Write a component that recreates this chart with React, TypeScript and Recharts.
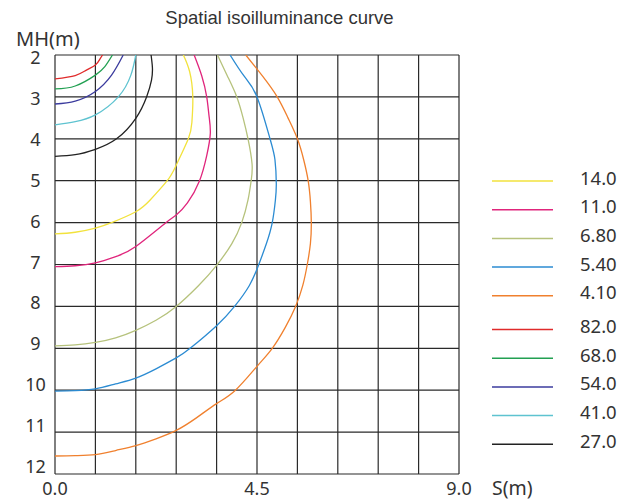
import { LineChart, Line, XAxis, YAxis, ReferenceLine } from "recharts";

// grid every 0.9 m across, 1 m down
const gridS = [0, 0.9, 1.8, 2.7, 3.6, 4.5, 5.4, 6.3, 7.2, 8.1, 9.0];
const gridMH = [2, 3, 4, 5, 6, 7, 8, 9, 10, 11, 12];
const sTicks = [0, 4.5, 9];
const mhTicks = [2, 3, 4, 5, 6, 7, 8, 9, 10, 11, 12];

// isolux curves as [S, MH], from the top edge down to the S = 0 axis
const lux14 = [[2.86, 2.0], [3.0, 2.4], [3.07, 3.0], [3.05, 3.6], [2.97, 4.0], [2.7, 4.63], [2.5, 5.0], [2.12, 5.46], [1.8, 5.74], [1.26, 6.0], [0.9, 6.13], [0.45, 6.23], [0, 6.27]];
const lux11 = [[3.1, 2.0], [3.27, 2.5], [3.38, 3.0], [3.43, 3.44], [3.46, 3.87], [3.38, 4.4], [3.22, 5.0], [2.95, 5.53], [2.7, 5.82], [2.45, 6.02], [1.8, 6.57], [1.38, 6.8], [0.9, 6.96], [0.45, 7.03], [0, 7.05]];
const lux68 = [[3.62, 2.0], [3.84, 2.5], [4.05, 3.0], [4.19, 3.5], [4.3, 4.0], [4.39, 4.6], [4.37, 5.0], [4.3, 5.46], [4.16, 6.0], [3.94, 6.5], [3.6, 7.02], [3.2, 7.5], [2.7, 8.0], [2.25, 8.33], [1.8, 8.57], [1.35, 8.75], [0.9, 8.86], [0.45, 8.92], [0, 8.94]];
const lux54 = [[3.9, 2.0], [4.21, 2.5], [4.5, 3.0], [4.79, 4.0], [4.9, 4.5], [4.93, 5.06], [4.91, 5.46], [4.84, 6.0], [4.71, 6.5], [4.54, 7.0], [4.33, 7.5], [4.0, 8.0], [3.6, 8.46], [3.01, 9.0], [2.7, 9.23], [2.25, 9.49], [1.8, 9.71], [1.35, 9.85], [0.9, 9.97], [0.45, 10.01], [0, 10.02]];
const lux41 = [[4.25, 2.0], [4.62, 2.5], [4.95, 3.0], [5.19, 3.5], [5.4, 4.0], [5.54, 4.5], [5.64, 5.0], [5.69, 5.5], [5.71, 6.0], [5.69, 6.5], [5.62, 7.0], [5.52, 7.5], [5.36, 8.0], [5.13, 8.5], [4.84, 9.0], [4.5, 9.43], [4.02, 10.0], [3.6, 10.32], [3.15, 10.66], [2.7, 10.96], [2.25, 11.16], [1.8, 11.32], [1.35, 11.44], [0.9, 11.54], [0.45, 11.56], [0, 11.57]];
const lux820 = [[1.06, 2.0], [1.0, 2.1], [0.9, 2.24], [0.7, 2.36], [0.45, 2.49], [0, 2.57]];
const lux680 = [[1.28, 2.0], [1.11, 2.28], [0.9, 2.48], [0.45, 2.74], [0, 2.81]];
const lux540 = [[1.52, 2.0], [1.26, 2.48], [0.9, 2.87], [0.45, 3.1], [0, 3.17]];
const lux410 = [[1.8, 2.0], [1.69, 2.48], [1.41, 3.0], [0.9, 3.43], [0.45, 3.59], [0, 3.67]];
const lux270 = [[2.14, 2.0], [2.17, 2.3], [2.15, 2.6], [2.04, 3.0], [1.8, 3.51], [1.37, 4.0], [0.9, 4.25], [0.45, 4.38], [0, 4.42]];

const luxLabels = ["14.0", "11.0", "6.80", "5.40", "4.10", "82.0", "68.0", "54.0", "41.0", "27.0"];
const luxColors = ["#f2e23c", "#e0257c", "#b6c27c", "#2b8bd2", "#f0802e", "#e02b2b", "#22a052", "#3b3b9e", "#5ec3d0", "#222222"];
const luxCurves = [lux14, lux11, lux68, lux54, lux41, lux820, lux680, lux540, lux410, lux270];

const TEXT = "#333";
const SANS = "'Noto Sans', sans-serif";

const XTick = ({ x, y, payload }: any) => (
  <text x={x} y={y + 21} textAnchor="middle" fontFamily={SANS} fontSize={18} fill={TEXT}>
    {Number(payload.value).toFixed(1)}
  </text>
);

// the labels sit on a slightly tighter spacing than the grid
const YTick = ({ x, y, payload }: any) => {
  const v = Number(payload.value);
  const dy = 2.5 - (v - 2) * 0.98 + 6.4;
  return (
    <text x={x - 19.5} y={y + dy} textAnchor="middle" fontFamily={SANS} fontSize={18} fill={TEXT}>
      {v}
    </text>
  );
};

export default function App() {
  return (
    <div style={{ position: "fixed", left: 0, top: 0, width: 634, height: 502, background: "#fff" }}>
      <LineChart width={634} height={502} margin={{ top: 55, right: 175, bottom: 0, left: 0 }}>
        <XAxis
          type="number"
          dataKey="s"
          domain={[0, 9]}
          ticks={sTicks}
          interval={0}
          allowDataOverflow
          allowDuplicatedCategory
          axisLine={false}
          tickLine={false}
          tickSize={0}
          tickMargin={0}
          height={28}
          tick={XTick}
        />
        <YAxis
          type="number"
          domain={[2, 12]}
          reversed
          ticks={mhTicks}
          interval={0}
          allowDataOverflow
          axisLine={false}
          tickLine={false}
          tickSize={0}
          tickMargin={0}
          width={55}
          tick={YTick}
        />
        {gridS.map((v) => (
          <ReferenceLine key={"x" + v} x={v} stroke="#2a2a2a" strokeWidth={1.2} />
        ))}
        {gridMH.map((v) => (
          <ReferenceLine key={"y" + v} y={v} stroke="#2a2a2a" strokeWidth={1.2} />
        ))}
        {luxCurves.map((c, i) => (
          <Line
            key={luxLabels[i]}
            name={luxLabels[i]}
            data={c.map(([s, mh]) => ({ s, mh }))}
            dataKey="mh"
            type="natural"
            stroke={luxColors[i]}
            strokeWidth={1.3}
            dot={false}
            activeDot={false}
            isAnimationActive={false}
          />
        ))}
      </LineChart>

      <svg width={634} height={502} style={{ position: "absolute", left: 0, top: 0, pointerEvents: "none" }}>
        <text x={279.5} y={24} textAnchor="middle" fontFamily="'Liberation Sans', Arial, sans-serif" fontSize={18.5} fill={TEXT}>
          Spatial isoilluminance curve
        </text>
        <text x={16} y={46} fontFamily={SANS} fontSize={20} fill={TEXT}>
          MH(m)
        </text>
        <text x={492} y={495} fontFamily={SANS} fontSize={19.5} fill={TEXT}>
          S(m)
        </text>
        {luxLabels.map((label, i) => {
          const ly = 181 + i * 28.7 + (i >= 5 ? 5 : 0);
          return (
            <g key={label}>
              <line x1={492} x2={553} y1={ly} y2={ly} stroke={luxColors[i]} strokeWidth={1.5} />
              <text x={580} y={ly + 3.5} fontFamily={SANS} fontSize={18.5} fill={TEXT}>
                {label}
              </text>
            </g>
          );
        })}
      </svg>
    </div>
  );
}
